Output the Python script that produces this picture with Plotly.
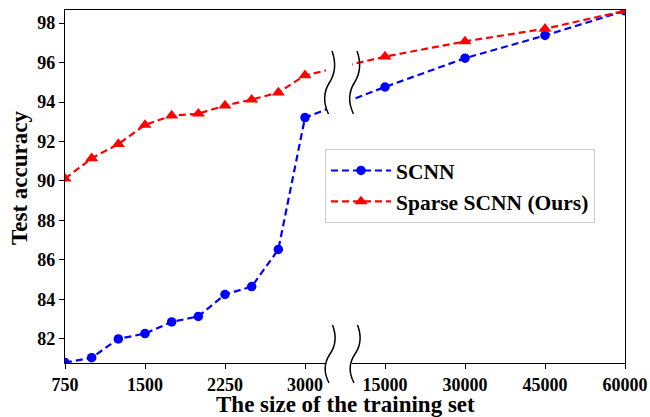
import plotly.graph_objects as go

# ---- data ----
sizes = [750, 1000, 1250, 1500, 1750, 2000, 2250, 2500, 2750, 3000,
         15000, 30000, 45000, 60000]
scnn = [80.8, 81.05, 82.0, 82.27, 82.86, 83.14, 84.25, 84.65, 86.53, 93.21,
        94.76, 96.22, 97.37, 98.62]
sparse_scnn = [90.12, 91.15, 91.87, 92.84, 93.31, 93.41, 93.82, 94.12, 94.48, 95.35,
               96.30, 97.07, 97.71, 98.62]
tick_values = [750, 1500, 2250, 3000, 15000, 30000, 45000, 60000]
tick_labels = [str(v) for v in tick_values]
y_ticks = [82, 84, 86, 88, 90, 92, 94, 96, 98]


def broken_pos(v):
    # broken x-axis: 750..3000 linear, then 15000..60000 linear with the same tick spacing
    if v <= 3000:
        return (v - 750) / 750.0
    return 3 + v / 15000.0


xs = [broken_pos(v) for v in sizes]
tx = [broken_pos(v) for v in tick_values]

# ---- geometry ----
W, H = 650, 417
L, R, T, B = 65, 25, 10, 54
PW, PH = W - L - R, H - T - B


def px(xp):
    return (xp - L) / PW


def py(yp):
    return (H - B - yp) / PH


FONT = "Liberation Serif"

fig = go.Figure()
fig.add_trace(go.Scatter(
    x=xs, y=scnn, mode="lines+markers", name="SCNN",
    line=dict(color="#0000ff", width=2.2, dash="7px,4px"),
    marker=dict(symbol="circle", size=9.5, color="#0000ff"),
    legendgroup="a"))
fig.add_trace(go.Scatter(
    x=xs, y=sparse_scnn, mode="lines+markers", name="Sparse SCNN (Ours)",
    line=dict(color="#ff0000", width=2.2, dash="7px,4px"),
    marker=dict(symbol="triangle-up", size=11.5, color="#ff0000"),
    legendgroup="b"))


def wave(cx, top, bot):
    Lh = bot - top
    pts = [(cx + 2.5, top),
           (cx + 7, top + Lh * 0.2), (cx + 6, top + Lh * 0.35), (cx, top + Lh * 0.5),
           (cx - 6, top + Lh * 0.65), (cx - 7, top + Lh * 0.8), (cx - 1, bot)]
    s = "M %.5f,%.5f" % (px(pts[0][0]), py(pts[0][1]))
    s += " C " + " ".join("%.5f,%.5f" % (px(a), py(b)) for a, b in pts[1:4])
    s += " C " + " ".join("%.5f,%.5f" % (px(a), py(b)) for a, b in pts[4:7])
    return s


shapes = []
# white patches hiding the lines at the break
shapes.append(dict(type="rect", xref="paper", yref="paper", layer="above",
                   x0=px(326), x1=px(352), y0=py(115), y1=py(49),
                   fillcolor="white", line=dict(width=0)))
shapes.append(dict(type="rect", xref="paper", yref="paper", layer="above",
                   x0=px(326), x1=px(352), y0=py(368), y1=py(358),
                   fillcolor="white", line=dict(width=0)))
for cx in (329.5, 354.5):
    shapes.append(dict(type="path", xref="paper", yref="paper", layer="above",
                       path=wave(cx, 51, 114), line=dict(color="black", width=1.5)))
    shapes.append(dict(type="path", xref="paper", yref="paper", layer="above",
                       path=wave(cx + 0.5, 325, 383), line=dict(color="black", width=1.5)))

axis_common = dict(showline=True, linecolor="black", linewidth=1.3, mirror=True,
                   ticks="outside", ticklen=5, tickwidth=1.2, tickcolor="black",
                   showgrid=False, zeroline=False, automargin=False,
                   tickfont=dict(family=FONT, size=18, color="black", weight="bold"))

fig.update_layout(
    width=W, height=H,
    margin=dict(l=L, r=R, t=T, b=B, autoexpand=False),
    plot_bgcolor="white", paper_bgcolor="white",
    shapes=shapes,
    xaxis=dict(range=[0, 7], tickvals=tx, ticktext=tick_labels, **axis_common),
    yaxis=dict(range=[80.78, 98.66], tickvals=y_ticks, **axis_common),
    annotations=[
        dict(text="The size of the training set", xref="paper", yref="paper",
             x=0.5, y=py(404), xanchor="center", yanchor="middle",
             showarrow=False,
             font=dict(family=FONT, size=23, color="black", weight="bold")),
        dict(text="Test accuracy", xref="paper", yref="paper",
             x=px(19), y=py(178), xanchor="center", yanchor="middle", textangle=-90,
             showarrow=False,
             font=dict(family=FONT, size=23, color="black", weight="bold")),
    ],
    legend=dict(x=px(325), y=py(149), xanchor="left", yanchor="top",
                bgcolor="white", bordercolor="#cccccc", borderwidth=1,
                font=dict(family=FONT, size=21.5, color="black", weight="bold"),
                traceorder="grouped", tracegroupgap=0, itemwidth=60),
    showlegend=True,
)

fig.write_html(
    "out.html",
    config={"displayModeBar": False},
    post_script=("document.documentElement.style.margin='0px';"
                 "document.documentElement.style.overflow='hidden';"
                 "document.body.style.margin='0px';"
                 "document.body.style.overflow='hidden';"),
)
